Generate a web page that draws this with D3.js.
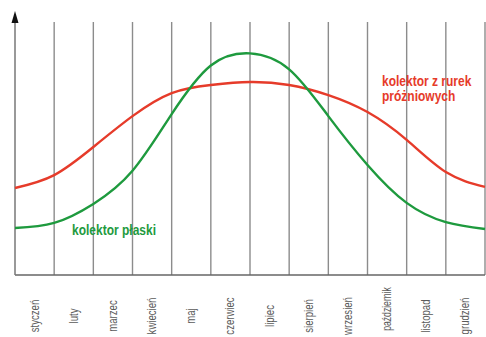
<!DOCTYPE html>
<html>
<head>
<meta charset="utf-8">
<script src="https://cdn.jsdelivr.net/npm/d3@7"></script>
<style>
  body { margin: 0; background: #fff; }
  text { font-family: "Liberation Sans", Arial, sans-serif; }
</style>
</head>
<body>
<div id="chart"></div>
<script>
// months along the bottom
const months = ["styczeń", "luty", "marzec", "kwiecień", "maj", "czerwiec",
  "lipiec", "sierpień", "wrzesień", "październik", "listopad", "grudzień"]

// relative yield read at each month boundary (0..12), arbitrary units
const vacuumTube = [34.4, 39.5, 50.6, 62.8, 71.9, 75.1, 76.3, 75.1, 71.1, 64.4, 53.4, 40.7, 34.8]
const flatPlate = [18.6, 20.6, 28.1, 41.2, 63.6, 82.8, 87.6, 81.3, 62.8, 43.5, 28.5, 20.9, 18.2]

const width = 486
const height = 337

const svg = d3.select("#chart")
  .append("svg")
  .attr("width", width)
  .attr("height", height)

const x = d3.scaleLinear().domain([0, 12]).range([15, 485])
const y = d3.scaleLinear().domain([0, 100]).range([275, 22])

// vertical grid lines
svg.append("g")
  .selectAll("line")
  .data(d3.range(1, 13))
  .enter()
  .append("line")
  .attr("x1", d => x(d))
  .attr("x2", d => x(d))
  .attr("y1", y(100))
  .attr("y2", y(0))
  .style("stroke", "#8c8c8c")
  .style("stroke-width", 1.4)

// baseline
svg.append("line")
  .attr("x1", x(0)).attr("x2", x(12))
  .attr("y1", y(0)).attr("y2", y(0))
  .style("stroke", "#666")
  .style("stroke-width", 1.4)

// y axis with arrow
svg.append("line")
  .attr("x1", x(0)).attr("x2", x(0))
  .attr("y1", y(0)).attr("y2", 20)
  .style("stroke", "#777")
  .style("stroke-width", 1.5)
svg.append("path")
  .attr("d", `M${x(0)},11 L${x(0) - 3.5},23 L${x(0) + 3.5},23 Z`)
  .style("fill", "#111")

const line = d3.line()
  .x((d, i) => x(i))
  .y(d => y(d))
  .curve(d3.curveNatural)

svg.append("path")
  .datum(vacuumTube)
  .attr("d", line)
  .style("fill", "none")
  .style("stroke", "#e63b2a")
  .style("stroke-width", 2.4)

svg.append("path")
  .datum(flatPlate)
  .attr("d", line)
  .style("fill", "none")
  .style("stroke", "#1e9a3e")
  .style("stroke-width", 2.4)

// month labels, rotated and narrowed (long ones squeezed a bit more to fit)
svg.append("g")
  .selectAll("text")
  .data(months)
  .enter()
  .append("text")
  .attr("transform", (d, i) => `translate(${x(i + 0.5) + 4},${d.length > 9 ? 309 : 316}) rotate(-90) scale(${d.length > 9 ? 0.72 : 0.8},1)`)
  .style("text-anchor", "middle")
  .style("font-size", "12px")
  .style("fill", "#5a5a5a")
  .text(d => d)

// series labels (condensed bold)
const label = (tx, ty, txt, col) => svg.append("text")
  .attr("transform", `translate(${tx},${ty}) scale(0.8,1)`)
  .style("font-size", "15px")
  .style("font-weight", "bold")
  .style("fill", col)
  .text(txt)

label(382, 86, "kolektor z rurek", "#e63b2a")
label(382, 101, "próżniowych", "#e63b2a")
label(72, 235, "kolektor płaski", "#1e9a3e")
</script>
</body>
</html>
